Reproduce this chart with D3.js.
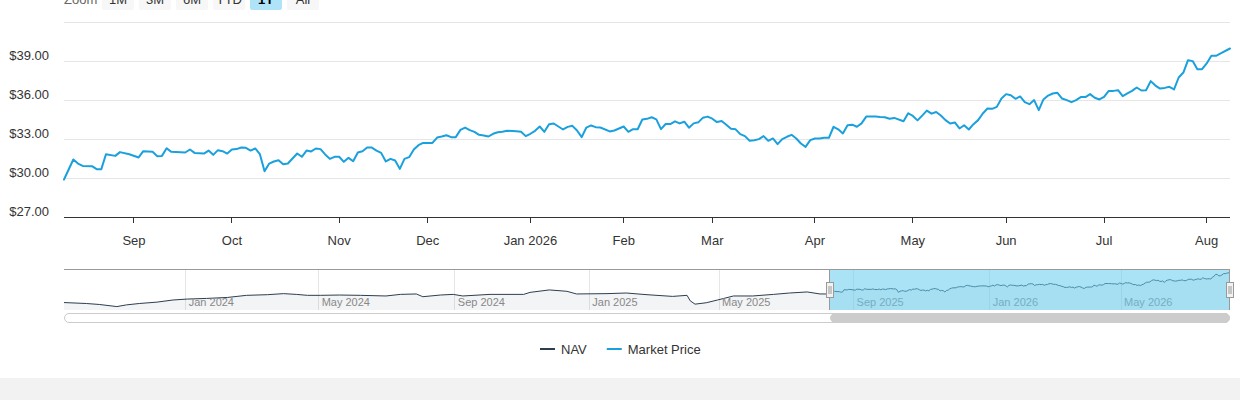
<!DOCTYPE html>
<html lang="en">
<head>
    <meta charset="UTF-8">
    <title>NAV and Market Price</title>
    <script src="https://d3js.org/d3.v7.min.js"></script>
    <style>
        body { margin: 0; background: #fff; }
        svg { display: block; font-family: "Liberation Sans", Arial, Helvetica, sans-serif; }
    </style>
</head>
<body>
<script>
    const WIDTH = 1240, HEIGHT = 400;
    const PLOT = {left: 64, right: 1230, top: 22.5, bottom: 217.5};
    const NAV = {top: 269, bottom: 310};

    const FIRST_DAY = '2023-09-13', WINDOW_START = '2025-08-11', LAST_DAY = '2026-08-10';
    // exchange holidays, the x axis is ordinal (trading sessions only)
    const HOLIDAYS = ['2023-11-23', '2023-12-25',
        '2024-01-01', '2024-01-15', '2024-02-19', '2024-03-29', '2024-05-27', '2024-06-19', '2024-07-04',
        '2024-09-02', '2024-11-28', '2024-12-25',
        '2025-01-01', '2025-01-09', '2025-01-20', '2025-02-17', '2025-04-18', '2025-05-26', '2025-06-19',
        '2025-07-04', '2025-09-01', '2025-11-27', '2025-12-25',
        '2026-01-01', '2026-01-19', '2026-02-16', '2026-04-03', '2026-05-25', '2026-06-19', '2026-07-03'];

    const zoomButtons = ['1M', '3M', '6M', 'YTD', '1Y', 'All'];
    const selectedButton = '1Y';
    const yTicks = [27, 30, 33, 36, 39, 42];
    const navTickMonths = [0, 4, 8];
    const legendItems = ['NAV', 'Market Price'];
    const legendColors = ['#2c3e50', '#1aa0dc'];

    // market price in the 1Y window, session number counted from WINDOW_START
    const priceSession = [0, 2, 3, 4, 6, 7, 8, 9, 11, 12, 14, 16, 17, 19, 20, 21, 22, 23, 26, 27, 28, 30, 31, 32, 33, 34,
        35, 36, 37, 38, 39, 40, 41, 42, 43, 44, 45, 46, 47, 48, 49, 50, 51, 52, 53, 54, 55, 56, 57, 58, 59, 60, 61, 62,
        63, 64, 65, 66, 67, 68, 69, 70, 71, 72, 73, 74, 75, 76, 77, 79, 80, 81, 82, 83, 84, 85, 86, 87, 88, 89, 90, 91,
        92, 93, 94, 95, 97, 98, 99, 100, 101, 102, 103, 104, 105, 106, 107, 108, 109, 110, 111, 112, 113, 114, 115, 117,
        118, 120, 121, 122, 123, 124, 125, 126, 127, 128, 129, 130, 131, 132, 133, 134, 135, 136, 137, 138, 139, 140,
        141, 142, 143, 144, 145, 146, 147, 148, 149, 150, 151, 152, 153, 154, 155, 156, 157, 158, 159, 160, 161, 162,
        163, 164, 165, 166, 167, 168, 169, 170, 171, 172, 174, 175, 176, 177, 178, 180, 181, 182, 183, 184, 185, 186,
        187, 188, 189, 190, 191, 192, 193, 194, 195, 196, 197, 198, 199, 200, 201, 202, 203, 204, 205, 206, 207, 208,
        209, 210, 211, 212, 213, 214, 215, 216, 217, 218, 219, 220, 221, 222, 223, 224, 225, 226, 227, 228, 229, 230,
        231, 232, 233, 234, 235, 236, 237, 238, 239, 240, 241, 242, 243, 244, 245, 246, 247, 248, 250];
    const priceValue = [29.92, 31.46, 31.15, 30.97, 30.95, 30.72, 30.72, 31.87, 31.74, 32.03, 31.87, 31.62, 32.10, 32.05,
        31.72, 31.74, 32.33, 32.05, 32.00, 32.23, 31.97, 31.92, 32.15, 31.82, 32.18, 32.10,
        31.92, 32.23, 32.26, 32.38, 32.36, 32.15, 32.31, 31.87, 30.56, 31.15, 31.31, 31.41, 31.10, 31.15, 31.54, 31.92,
        31.67, 32.15, 32.08, 32.31, 32.26, 31.85, 31.51, 31.67, 31.67, 31.28, 31.59, 31.33,
        32.00, 32.10, 32.38, 32.38, 32.15, 31.97, 31.31, 31.51, 31.38, 30.74, 31.51, 31.64, 32.23, 32.56, 32.74, 32.74,
        33.15, 33.23, 33.33, 33.18, 33.18, 33.74, 33.92, 33.72, 33.59, 33.36, 33.31, 33.23,
        33.44, 33.56, 33.59, 33.67, 33.64, 33.59, 33.26, 33.44, 33.67, 34.00, 33.59, 34.18, 34.23, 34.00, 33.77, 33.97,
        34.05, 33.69, 33.18, 33.92, 34.08, 33.95, 33.92, 33.62,
        33.69, 34.00, 33.59, 33.79, 33.79, 34.54, 34.59, 34.71, 34.55, 33.80, 34.19, 34.19, 34.40, 34.24, 34.37, 33.91,
        34.24, 34.32, 34.68, 34.76, 34.60, 34.34,
        34.42, 34.14, 33.83, 33.78, 33.41, 33.26, 32.90, 32.95, 33.03, 33.26, 32.90, 33.08, 32.64, 33.03, 33.21, 33.36,
        33.08, 32.69, 32.43, 32.95, 33.08, 33.08,
        33.13, 33.13, 33.98, 33.78, 33.47, 34.09, 34.14, 33.98, 34.24, 34.76, 34.76, 34.73, 34.71, 34.60, 34.66, 34.40,
        35.02, 34.81, 34.47, 34.84, 35.22, 34.99,
        35.12, 34.85, 34.49, 34.23, 34.31, 33.85, 34.10, 33.77, 34.18, 34.49, 35.00, 35.38, 35.36, 35.51, 36.15, 36.49,
        36.41, 36.13, 36.31, 35.87, 35.72, 36.03,
        35.26, 36.08, 36.38, 36.54, 36.59, 36.15, 36.03, 35.87, 36.03, 36.26, 36.26, 36.49, 36.21, 36.08, 36.28, 36.74,
        36.74, 36.79, 36.33, 36.54, 36.74, 37.00,
        36.77, 36.79, 37.49, 37.15, 36.92, 36.97, 37.05, 36.85, 37.77, 38.15, 39.10, 39.03, 38.41, 38.41, 38.85, 39.44,
        39.44, 39.62, 40.00];

    // NAV history shown in the navigator before the window, session number from FIRST_DAY
    const navSession = [0, 14, 22, 33, 39, 47, 58, 68, 77, 89, 102, 114, 127, 137, 145, 152, 160, 172, 185, 201,
        210, 220, 224, 235, 243, 249, 266, 287, 291, 303, 314, 320, 339, 351, 364, 380, 389, 391, 394, 401,
        408, 418, 430, 443, 453, 464, 472, 476];
    const navValue = [25.8, 25.35, 24.9, 23.9, 24.7, 25.35, 26.0, 27.0, 27.45, 27.75, 28.2, 29.2, 29.5, 30.0, 29.65,
        29.2, 29.2, 29.35, 29.2, 28.9, 29.65, 29.85, 28.55, 29.35, 29.65, 28.9, 29.65, 29.65, 30.6, 31.75,
        31.1, 29.85, 30.0, 30.3, 29.5, 28.7, 29.2, 26.6, 25.05, 25.7, 27.0, 28.9, 28.9, 29.65, 30.3, 30.8,
        29.85, 29.85];

    function isoDay(d) {
        return d.toISOString().slice(0, 10);
    }

    function tradingDays(from, to) {
        const off = new Set(HOLIDAYS), out = [];
        const end = new Date(to + 'T00:00:00Z');
        for (let d = new Date(from + 'T00:00:00Z'); d <= end; d = new Date(d.getTime() + 864e5)) {
            const wd = d.getUTCDay();
            if (wd > 0 && wd < 6 && !off.has(isoDay(d))) out.push(d);
        }
        return out;
    }

    const days = tradingDays(FIRST_DAY, LAST_DAY);
    const ws = days.findIndex(d => isoDay(d) === WINDOW_START);
    const last = days.length - 1;

    function monthStarts(from, to) {
        let ret = [];
        for (let i = Math.max(from, 1); i <= to; i++) {
            if (days[i].getUTCMonth() !== days[i - 1].getUTCMonth()) ret.push(i);
        }
        return ret;
    }

    const price = priceSession.map((s, i) => ({s: s + ws, v: priceValue[i]}));
    const navData = navSession.map((s, i) => ({s: s, v: navValue[i]})).concat(price);
    const crisp = v => Math.floor(v) + 0.5;

    const svg = d3.select('body').append('svg').attr('width', WIDTH).attr('height', HEIGHT);
    svg.append('rect').attr('y', 378).attr('width', WIDTH).attr('height', HEIGHT - 378).attr('fill', '#f2f2f2');

    // range selector, mostly cut off by the top edge
    svg.append('text').attr('x', 64).attr('y', 4).attr('font-size', 13).attr('fill', '#666').text('Zoom');
    zoomButtons.forEach((b, i) => {
        const bx = 102 + i * 37;
        const sel = b === selectedButton;
        svg.append('rect').attr('x', bx).attr('y', -12).attr('width', 32).attr('height', 22).attr('rx', 2)
            .attr('fill', sel ? '#afe4f8' : '#f7f7f7');
        svg.append('text').attr('x', bx + 16).attr('y', 4).attr('text-anchor', 'middle').attr('font-size', 13)
            .attr('font-weight', sel ? 'bold' : 'normal').attr('fill', sel ? '#000' : '#333').text(b);
    });

    // main plot
    const x = d3.scaleLinear().domain([ws, last]).range([PLOT.left, PLOT.right]);
    const y = d3.scaleLinear().domain([27, 42]).range([PLOT.bottom, PLOT.top]);

    yTicks.filter(t => t !== 27).forEach(t => {
        svg.append('line').attr('x1', PLOT.left).attr('x2', PLOT.right)
            .attr('y1', crisp(y(t))).attr('y2', crisp(y(t))).attr('stroke', '#e6e6e6');
    });
    yTicks.filter(t => t !== 42).forEach(t => {
        svg.append('text').attr('x', 49).attr('y', crisp(y(t)) - 1.5).attr('text-anchor', 'end')
            .attr('font-size', 13).attr('fill', '#333').text(d3.format('$.2f')(t));
    });

    svg.append('line').attr('x1', PLOT.left).attr('x2', PLOT.right)
        .attr('y1', crisp(PLOT.bottom)).attr('y2', crisp(PLOT.bottom)).attr('stroke', '#333');
    const fmtMonth = d3.utcFormat('%b'), fmtMonthYear = d3.utcFormat('%b %Y');
    monthStarts(ws + 1, last).forEach(i => {
        const tx = crisp(x(i));
        svg.append('line').attr('x1', tx).attr('x2', tx).attr('y1', crisp(PLOT.bottom)).attr('y2', 223)
            .attr('stroke', '#333');
        svg.append('text').attr('x', x(i)).attr('y', 245).attr('text-anchor', 'middle')
            .attr('font-size', 13).attr('fill', '#333')
            .text(days[i].getUTCMonth() === 0 ? fmtMonthYear(days[i]) : fmtMonth(days[i]));
    });

    svg.append('clipPath').attr('id', 'plotclip').append('rect')
        .attr('x', PLOT.left - 2).attr('y', 0).attr('width', PLOT.right - PLOT.left + 4).attr('height', PLOT.bottom);
    svg.append('path').datum(price).attr('clip-path', 'url(#plotclip)')
        .attr('d', d3.line().x(d => x(d.s)).y(d => y(d.v)))
        .attr('fill', 'none').attr('stroke', legendColors[1]).attr('stroke-width', 2)
        .attr('stroke-linejoin', 'round').attr('stroke-linecap', 'round');

    // navigator
    const xn = d3.scaleLinear().domain([0, last]).range([PLOT.left, PLOT.right]);
    const ext = d3.extent(navData, d => d.v);
    const pad = (ext[1] - ext[0]) * 0.1;
    const yn = d3.scaleLinear().domain([ext[0] - pad, ext[1] + pad]).range([NAV.bottom, NAV.top]);

    const navTicks = monthStarts(1, last).filter(i => navTickMonths.includes(days[i].getUTCMonth()));
    navTicks.forEach(i => {
        svg.append('line').attr('x1', crisp(xn(i))).attr('x2', crisp(xn(i)))
            .attr('y1', NAV.top).attr('y2', NAV.bottom).attr('stroke', '#e6e6e6');
    });
    svg.append('path').datum(navData)
        .attr('d', d3.area().x(d => xn(d.s)).y0(NAV.bottom).y1(d => yn(d.v)))
        .attr('fill', 'rgba(44,62,80,0.06)');
    svg.append('path').datum(navData)
        .attr('d', d3.line().x(d => xn(d.s)).y(d => yn(d.v)))
        .attr('fill', 'none').attr('stroke', legendColors[0]).attr('stroke-width', 1);
    navTicks.forEach(i => {
        svg.append('text').attr('x', xn(i) + 3).attr('y', 306).attr('font-size', 11).attr('fill', '#888')
            .text(fmtMonthYear(days[i]));
    });

    const m0 = xn(ws), m1 = xn(last);
    svg.append('rect').attr('x', m0).attr('y', NAV.top).attr('width', m1 - m0).attr('height', NAV.bottom - NAV.top)
        .attr('fill', 'rgba(102,204,238,0.55)');
    svg.append('path')
        .attr('d', `M${PLOT.left},${NAV.top + 0.5}H${PLOT.right}M${crisp(m0)},${NAV.top}V${NAV.bottom}M${crisp(m1) - 1},${NAV.top}V${NAV.bottom}`)
        .attr('fill', 'none').attr('stroke', '#999');
    [m0, m1].forEach(h => {
        const hx = Math.round(h) - 3.5;
        svg.append('rect').attr('x', hx).attr('y', 282.5).attr('width', 7).attr('height', 15)
            .attr('fill', '#f2f2f2').attr('stroke', '#999');
        svg.append('path').attr('d', `M${hx + 2.5},286V294M${hx + 4.5},286V294`).attr('stroke', '#999');
    });

    // scrollbar
    svg.append('rect').attr('x', PLOT.left + 0.5).attr('y', 313.5).attr('width', PLOT.right - PLOT.left - 1)
        .attr('height', 9).attr('rx', 4.5).attr('fill', '#fff').attr('stroke', '#ccc');
    svg.append('rect').attr('x', m0 + 1).attr('y', 313.5).attr('width', m1 - m0 - 1.5)
        .attr('height', 9).attr('rx', 4.5).attr('fill', '#cccccc').attr('stroke', '#cccccc');

    // legend
    const legend = svg.append('g');
    let lx = 0;
    legendItems.forEach((name, i) => {
        legend.append('line').attr('x1', lx).attr('x2', lx + 15).attr('y1', 349).attr('y2', 349)
            .attr('stroke', legendColors[i]).attr('stroke-width', 2);
        const t = legend.append('text').attr('x', lx + 21).attr('y', 353.5).attr('font-size', 13)
            .attr('fill', '#333').text(name);
        lx += 21 + t.node().getComputedTextLength() + 20;
    });
    legend.attr('transform', `translate(${Math.round(WIDTH / 2 - (lx - 20) / 2)},0)`);
</script>
</body>
</html>
